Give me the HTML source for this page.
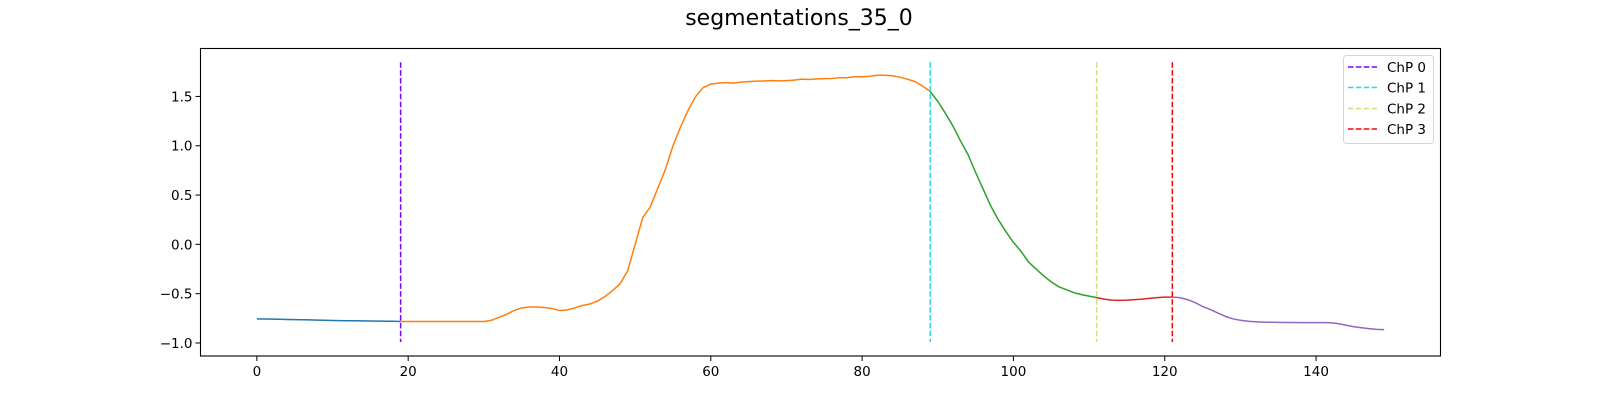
<!DOCTYPE html>
<html><head><meta charset="utf-8"><style>
body{margin:0;background:#fff}
svg text{font-family:"DejaVu Sans","Liberation Sans",sans-serif}
</style></head><body>
<svg id="chart" width="1600" height="400" xmlns="http://www.w3.org/2000/svg">
<rect width="1600" height="400" fill="#fff"/>
<text x="799" y="25" font-size="22" text-anchor="middle">segmentations_35_0</text>
<g id="plot"></g>
<rect x="200.5" y="48.5" width="1240" height="307.5" fill="none" stroke="#000" stroke-width="1.1"/>
<g>
<rect x="1343.5" y="55.5" width="90" height="88" rx="3" fill="#fff" fill-opacity="0.8" stroke="#d6d6d6"/>
<line x1="1348" x2="1377" y1="67" y2="67" stroke="#7f00ff" stroke-width="1.5" stroke-dasharray="5.5,2.4"/>
<text x="1387" y="72" font-size="13.5">ChP 0</text>
<line x1="1348" x2="1377" y1="87.5" y2="87.5" stroke="#1ddfe0" stroke-width="1.5" stroke-dasharray="5.5,2.4"/>
<text x="1387" y="92.5" font-size="13.5">ChP 1</text>
<line x1="1348" x2="1377" y1="108.5" y2="108.5" stroke="#d4dc7f" stroke-width="1.5" stroke-dasharray="5.5,2.4"/>
<text x="1387" y="113.5" font-size="13.5">ChP 2</text>
<line x1="1348" x2="1377" y1="129" y2="129" stroke="#ff0000" stroke-width="1.5" stroke-dasharray="5.5,2.4"/>
<text x="1387" y="134" font-size="13.5">ChP 3</text>
</g>
</svg>
<script>
const xTicks=[0,20,40,60,80,100,120,140];
const yTicks=[-1.0,-0.5,0.0,0.5,1.0,1.5];
const changePoints=[19,89,111,121];
const cpColors=["#7f00ff","#1ddfe0","#d4dc7f","#ff0000"];
const cpRange=[-0.99,1.847];
const segStarts=[0,19,89,111,121];
const segColors=["#1f77b4","#ff7f0e","#2ca02c","#d62728","#9467bd"];
const seg0=[-0.755,-0.757,-0.758,-0.76,-0.762,-0.763,-0.764,-0.766,-0.768,-0.77,-0.772,-0.773,-0.774,-0.775,-0.776,-0.777,-0.778,-0.779,-0.78,-0.782];
const seg1=[-0.782,-0.782,-0.782,-0.782,-0.782,-0.782,-0.782,-0.782,-0.782,-0.782,-0.782,-0.782,-0.77,-0.74,-0.71,-0.67,-0.645,-0.635,-0.635,-0.64,-0.65,-0.67,-0.665,-0.645,-0.62,-0.605,-0.575,-0.53,-0.47,-0.40,-0.27,0.0,0.27,0.38,0.57,0.76,1.0,1.19,1.36,1.5,1.59,1.625,1.635,1.64,1.635,1.645,1.65,1.655,1.657,1.66,1.658,1.66,1.665,1.675,1.672,1.678,1.68,1.682,1.69,1.69,1.70,1.70,1.705,1.715,1.715,1.71,1.695,1.675,1.65,1.605,1.55];
const seg2=[1.55,1.45,1.33,1.2,1.05,0.91,0.73,0.56,0.39,0.25,0.13,0.02,-0.07,-0.18,-0.25,-0.32,-0.38,-0.43,-0.46,-0.49,-0.51,-0.525,-0.54];
const seg3=[-0.54,-0.555,-0.565,-0.568,-0.565,-0.56,-0.555,-0.548,-0.54,-0.535,-0.535];
const seg4=[-0.535,-0.54,-0.56,-0.59,-0.63,-0.66,-0.695,-0.73,-0.755,-0.77,-0.78,-0.785,-0.788,-0.79,-0.791,-0.792,-0.792,-0.793,-0.793,-0.793,-0.793,-0.795,-0.805,-0.82,-0.835,-0.845,-0.855,-0.862,-0.865];
const segments=[seg0,seg1,seg2,seg3,seg4];

const NS="http://www.w3.org/2000/svg";
const X0=200.5,X1=1440.5,Y0=48.5,Y1=356;
const xMin=-7.45,xMax=156.45,yMin=-1.132,yMax=1.986;
function sx(v){return X0+(v-xMin)/(xMax-xMin)*(X1-X0);}
function sy(v){return Y1-(v-yMin)/(yMax-yMin)*(Y1-Y0);}
const g=document.getElementById('plot');
function mk(t,a){const e=document.createElementNS(NS,t);for(const k in a)e.setAttribute(k,a[k]);g.appendChild(e);return e;}
xTicks.forEach(t=>{
  const x=sx(t);
  const l=mk('line',{x1:x,x2:x,y1:Y1,y2:Y1+5,stroke:'#000'});
  
  
  const tx=mk('text',{x:x,y:Y1+20,'font-size':13.5,'text-anchor':'middle'});
  tx.textContent=String(t);
  
  
});
yTicks.forEach(t=>{
  const y=sy(t);
  const l=mk('line',{x1:X0-5,x2:X0,y1:y,y2:y,stroke:'#000'});
  
  
  const tx=mk('text',{x:X0-8,y:y+5,'font-size':13.5,'text-anchor':'end'});
  tx.textContent=(t<0?'\u2212':'')+Math.abs(t).toFixed(1);
  
  
});
segments.forEach((s,i)=>{
  const pts=s.map((v,j)=>sx(segStarts[i]+j).toFixed(2)+','+sy(v).toFixed(2)).join(' ');
  const p=mk('polyline',{points:pts,fill:'none',stroke:segColors[i],'stroke-width':1.5,'stroke-linejoin':'round'});
  
  
});
changePoints.forEach((c,i)=>{
  const x=sx(c);
  const l=mk('line',{x1:x,x2:x,y1:sy(cpRange[1]),y2:sy(cpRange[0]),stroke:cpColors[i],'stroke-width':1.5,'stroke-dasharray':'5.5,2.4'});
  
  
});
</script>
</body></html>
